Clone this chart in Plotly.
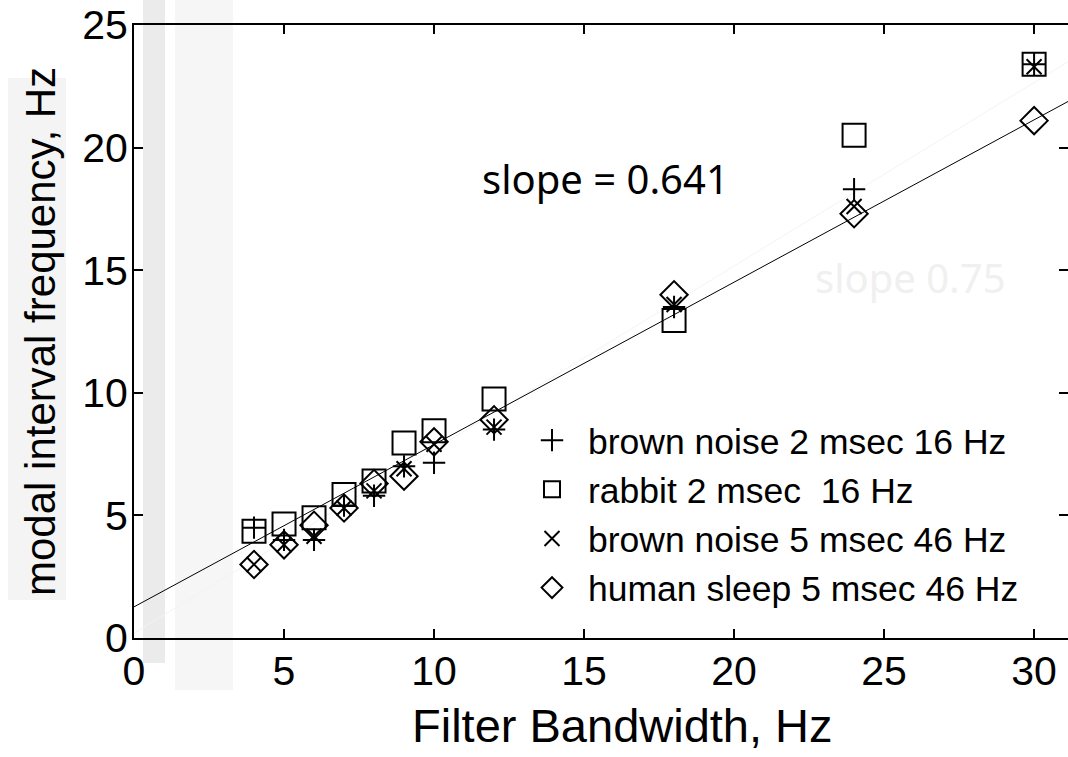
import plotly.graph_objects as go

# ---- data ----
bandwidth = [4, 5, 6, 7, 8, 9, 10, 12, 18, 24, 30]
brown_noise_2ms = [4.5, 4.0, 4.0, 5.4, 5.8, 7.0, 7.15, 8.5, 13.5, 18.3, 23.4]
rabbit_2ms = [4.35, 4.65, 4.9, 5.85, 6.4, 7.95, 8.45, 9.75, 12.95, 20.5, 23.4]
brown_noise_5ms = [3.0, 3.8, 4.15, 5.3, 6.0, 6.9, 7.9, 8.6, 13.6, 17.6, 23.3]
human_sleep_5ms = [3.0, 3.8, 4.6, 5.3, 6.3, 6.6, 8.0, 8.9, 14.0, 17.3, 21.1]

fit_x = [0, 31.13]
fit_y = [1.27, 21.88]
ref_x = [0, 31.13]
ref_y = [0.2, 23.5]

x_ticks = [0, 5, 10, 15, 20, 25, 30]
y_ticks = [0, 5, 10, 15, 20, 25]
x_range = [0, 31.13]
y_range = [0, 25]

series_names = [
    "brown noise 2 msec 16 Hz",
    "rabbit 2 msec  16 Hz",
    "brown noise 5 msec 46 Hz",
    "human sleep 5 msec 46 Hz",
]

FONT = "Liberation Sans, Arial, sans-serif"

fig = go.Figure()

# faint reference line (slope 0.75)
fig.add_trace(go.Scatter(x=ref_x, y=ref_y, mode="lines",
                         line=dict(color="#f3f3f3", width=1),
                         showlegend=False, hoverinfo="skip"))
# fit line
fig.add_trace(go.Scatter(x=fit_x, y=fit_y, mode="lines",
                         line=dict(color="black", width=1),
                         showlegend=False, hoverinfo="skip"))

styles = [
    ("cross-thin", 16),
    ("square-open", 23),
    ("x-thin", 15),
    ("diamond-open", 21),
]
series = [brown_noise_2ms, rabbit_2ms, brown_noise_5ms, human_sleep_5ms]
for name, ys, (sym, sz) in zip(series_names, series, styles):
    fig.add_trace(go.Scatter(
        x=bandwidth, y=ys, mode="markers", name=name,
        marker=dict(symbol=sym, size=sz, color="black",
                    line=dict(color="black", width=2)),
    ))

# right-side mirror ticks without line
fig.add_trace(go.Scatter(x=[None], y=[None], yaxis="y2", showlegend=False))

fig.update_layout(
    width=1068, height=757,
    margin=dict(l=134, r=0, t=25, b=119),
    paper_bgcolor="white", plot_bgcolor="white",
    font=dict(family=FONT, color="black"),
    xaxis=dict(range=x_range, tickvals=x_ticks, ticks="inside", ticklen=9,
               tickwidth=2, tickcolor="black", showline=True, linewidth=2,
               linecolor="black", mirror="ticks", showgrid=False,
               zeroline=False, tickfont=dict(size=41, family=FONT),
               ticklabelstandoff=-4),
    yaxis=dict(range=y_range, tickvals=y_ticks, ticks="inside", ticklen=9,
               tickwidth=2, tickcolor="black", showline=True, linewidth=2,
               linecolor="black", showgrid=False, zeroline=False,
               tickfont=dict(size=41, family=FONT), ticklabelstandoff=-4),
    yaxis2=dict(range=y_range, tickvals=y_ticks, overlaying="y", side="right",
                ticks="inside", ticklen=9, tickwidth=2, tickcolor="black",
                showline=False, showgrid=False, zeroline=False,
                showticklabels=False),
    legend=dict(x=0.409, y=0.371, xanchor="left", yanchor="top",
                bgcolor="rgba(0,0,0,0)", borderwidth=0, itemwidth=62,
                tracegroupgap=0,
                font=dict(size=35.5, family=FONT, color="black")),
    shapes=[
        dict(type="rect", xref="paper", yref="paper", layer="below",
             x0=(143 - 134) / 934, x1=(165 - 134) / 934,
             y0=(638 - 663) / 613, y1=(638 - 0) / 613,
             fillcolor="#ebebeb", line=dict(width=0)),
        dict(type="rect", xref="paper", yref="paper", layer="below",
             x0=(175 - 134) / 934, x1=(233 - 134) / 934,
             y0=(638 - 690) / 613, y1=(638 - 0) / 613,
             fillcolor="#f6f6f6", line=dict(width=0)),
        dict(type="rect", xref="paper", yref="paper", layer="below",
             x0=(8 - 134) / 934, x1=(66 - 134) / 934,
             y0=(638 - 600) / 613, y1=(638 - 78) / 613,
             fillcolor="#f4f4f4", line=dict(width=0)),
    ],
    annotations=[
        dict(text="Filter Bandwidth, Hz", xref="paper", yref="paper",
             x=(622 - 134) / 934, y=(638 - 725) / 613, showarrow=False,
             xanchor="center", yanchor="middle",
             font=dict(size=47, family=FONT)),
        dict(text="modal interval frequency, Hz", xref="paper", yref="paper",
             x=(40 - 134) / 934, y=(638 - 332) / 613, showarrow=False,
             textangle=-90, xanchor="center", yanchor="middle",
             font=dict(size=42, family=FONT)),
        dict(text="slope = 0.641", x=15.7, y=18.73, xref="x", yref="y",
             showarrow=False, font=dict(size=40, family="Noto Sans")),
        dict(text="slope 0.75", x=25.87, y=14.72, xref="x", yref="y",
             showarrow=False,
             font=dict(size=40, family="Noto Sans", color="#f0f0f0")),
    ],
)

fig.write_html("out.html",
               config={"displayModeBar": False},
               post_script="document.body.style.margin='0px';"
                           "document.body.style.overflow='hidden';")
